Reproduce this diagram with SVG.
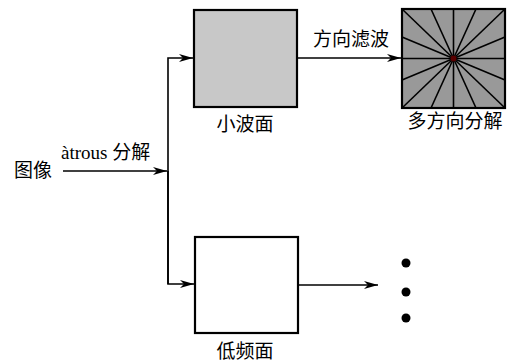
<svg xmlns="http://www.w3.org/2000/svg" width="517" height="362" viewBox="0 0 517 362">
<defs>
<marker id="ah" viewBox="0 0 14 8" refX="14" refY="4" markerWidth="14" markerHeight="8" markerUnits="userSpaceOnUse" orient="auto">
<path d="M0,0 L14,4 L0,8 L4,4 Z" fill="#000"/>
</marker>
<style>
.box{stroke:#000;stroke-width:2.2}
.ln{stroke:#000;stroke-width:1.6;fill:none}
.t{font-family:"Liberation Serif","Noto Sans CJK SC",serif;font-size:19px;fill:#000}
.ray{stroke:#000;stroke-width:1.6}
</style>
</defs>
<rect width="517" height="362" fill="#fff"/>
<g id="input">
<text class="t" x="14" y="177">图像</text>
<text class="t" x="61" y="159" font-size="18">àtrous 分解</text>
</g>
<g id="wavelet">
<rect class="box" x="194" y="10" width="103" height="97" fill="#c8c8c8"/>
<text class="t" x="245" y="131" text-anchor="middle">小波面</text>
</g>
<g id="lowfreq">
<rect class="box" x="195" y="237" width="103" height="96" fill="#fff"/>
<text class="t" x="245" y="358" text-anchor="middle">低频面</text>
</g>
<g id="directional">
<rect class="box" x="402" y="9" width="103" height="99" fill="#999"/>
<g class="ray">
<line x1="402" y1="9" x2="505" y2="108"/>
<line x1="505" y1="9" x2="402" y2="108"/>
<line x1="453.5" y1="9" x2="453.5" y2="108"/>
<line x1="402" y1="58.5" x2="505" y2="58.5"/>
<line x1="431" y1="9" x2="476" y2="108"/>
<line x1="476" y1="9" x2="431" y2="108"/>
<line x1="402" y1="37" x2="505" y2="80"/>
<line x1="402" y1="80" x2="505" y2="37"/>
</g>
<circle cx="453.5" cy="58.5" r="3" fill="#5a0000"/>
<text class="t" x="455" y="128" text-anchor="middle">多方向分解</text>
</g>
<g id="dots">
<circle cx="406" cy="263" r="4.5" fill="#000"/>
<circle cx="406" cy="292" r="4.5" fill="#000"/>
<circle cx="406" cy="318" r="4.5" fill="#000"/>
</g>
<g id="connectors">
<line class="ln" x1="63" y1="171" x2="167" y2="171" marker-end="url(#ah)"/>
<path class="ln" d="M168,284 V58 H193" marker-end="url(#ah)"/>
<path class="ln" d="M168,171 V284 H194" marker-end="url(#ah)"/>
<line class="ln" x1="297" y1="58" x2="401" y2="58" marker-end="url(#ah)"/>
<line class="ln" x1="298" y1="285" x2="378" y2="285" marker-end="url(#ah)"/>
<text class="t" x="313" y="46">方向滤波</text>
</g>
</svg>
